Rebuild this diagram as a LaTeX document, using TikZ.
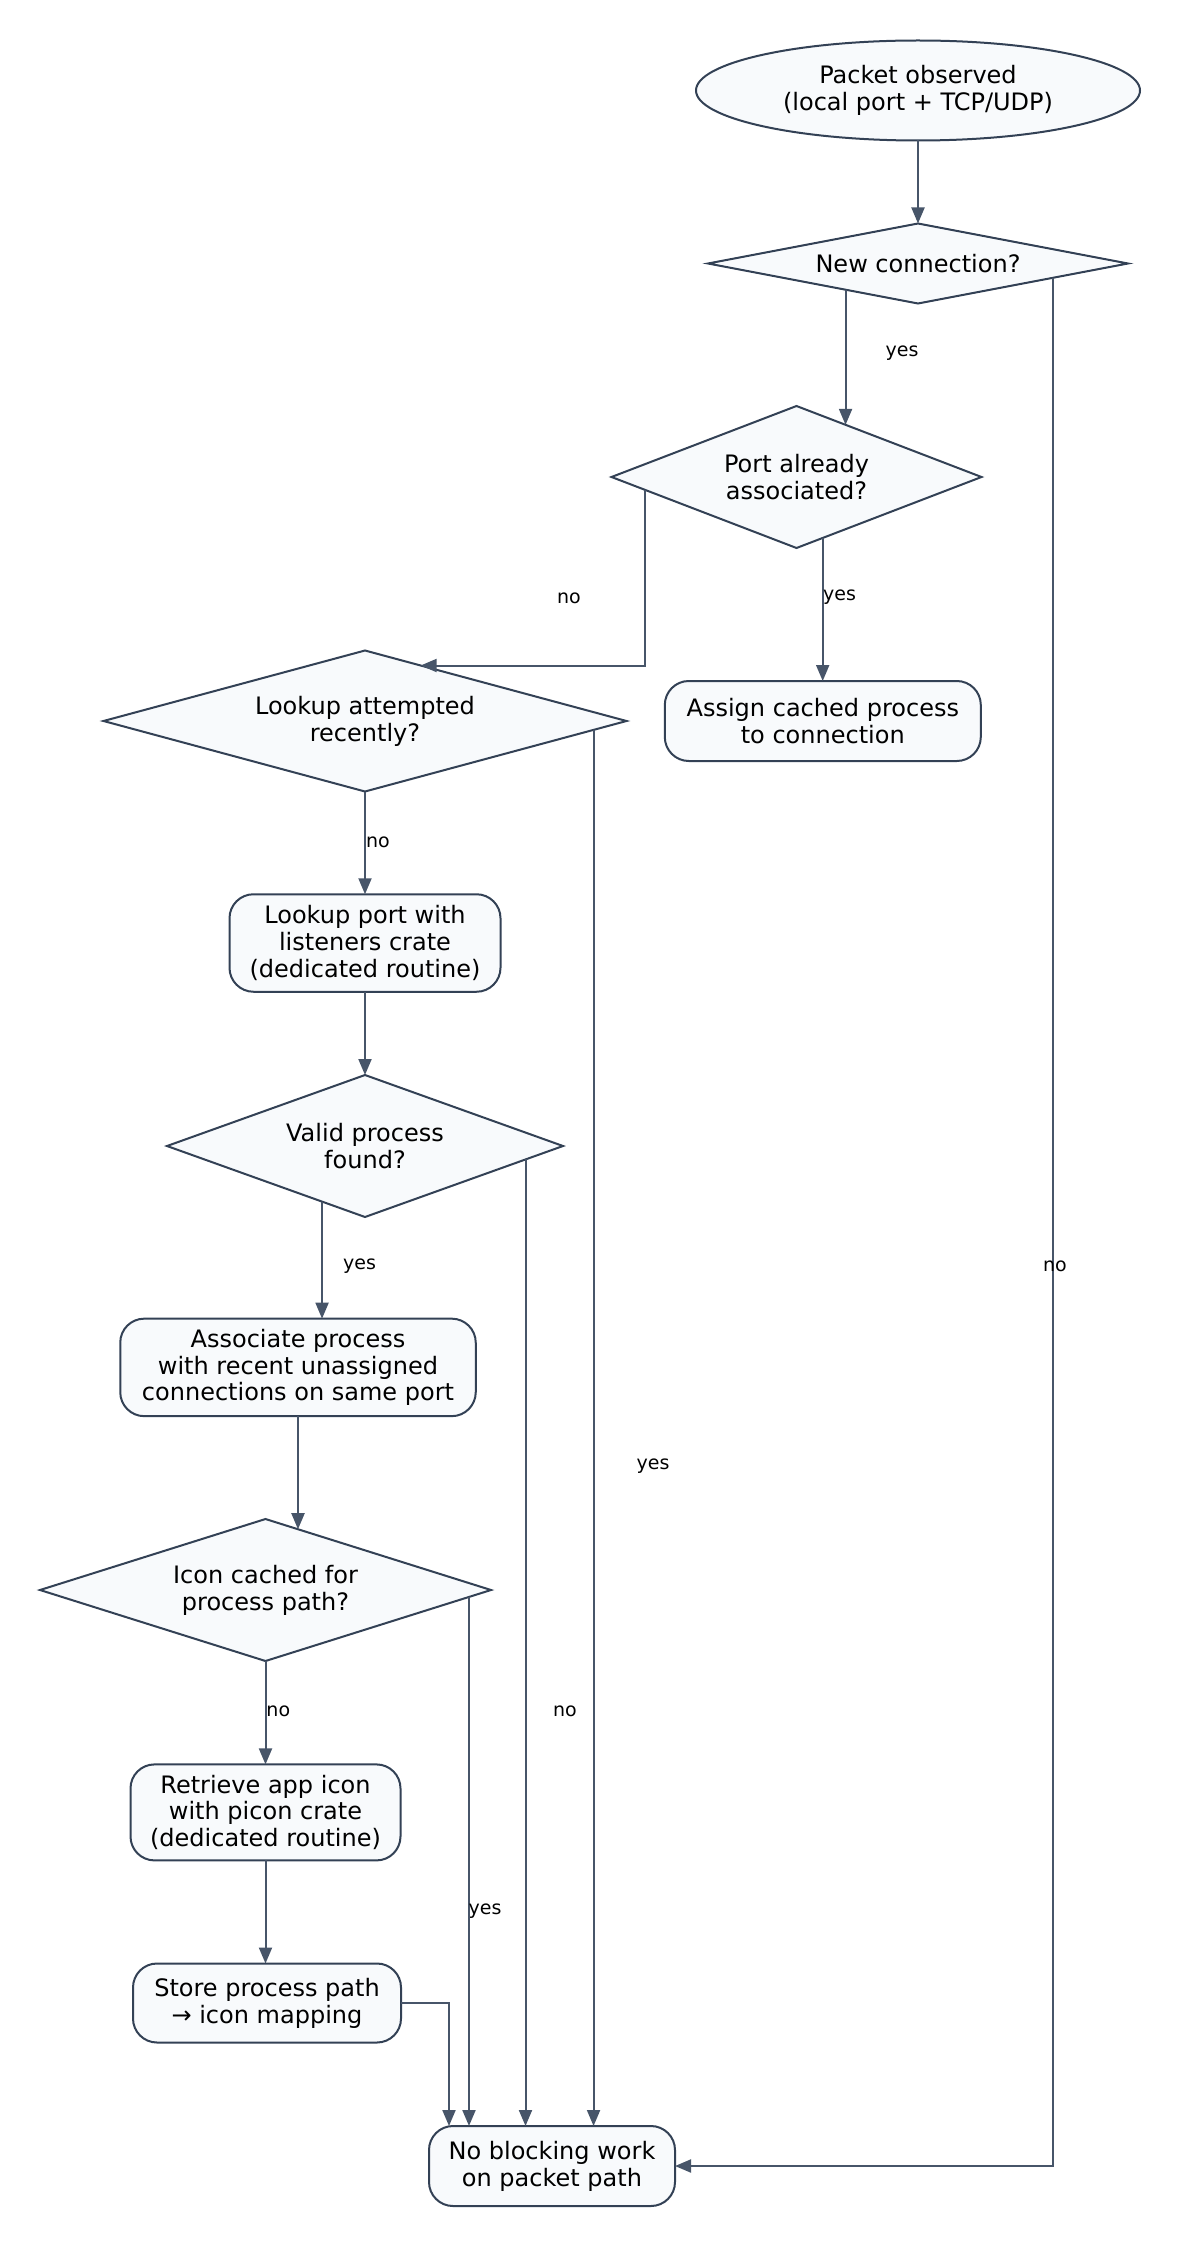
\documentclass[tikz,border=0pt]{standalone}
\usepackage{fontspec}
\setmainfont{DejaVu Sans}
\usetikzlibrary{shapes.geometric,arrows.meta,calc}
\definecolor{nodeborder}{HTML}{334155}
\definecolor{nodefill}{HTML}{F8FAFC}
\definecolor{edgecol}{HTML}{475569}
\begin{document}
\begin{tikzpicture}[x=0.5pt,y=-0.5pt,
  every node/.style={font=\fontsize{12pt}{13.4pt}\selectfont, text=black},
  base/.style={draw=nodeborder, fill=nodefill, line width=1pt, align=center, inner sep=0pt, outer sep=0pt},
  procbox/.style={base, rectangle, rounded corners=12pt},
  decision/.style={base, diamond},
  startnode/.style={base, ellipse},
  edge/.style={draw=edgecol, line width=1pt, -{Triangle[length=8pt,width=6.5pt]}},
  lbl/.style={font=\fontsize{9.5pt}{11pt}\selectfont, inner sep=0pt}
]
\path[use as bounding box] (0,0) rectangle (1181,2247);

% nodes
\node[startnode, minimum width=222pt, minimum height=50pt] (pkt) at (918,90.5) {Packet observed\\(local port + TCP/UDP)};
\node[decision, minimum width=210pt, minimum height=40pt, aspect=5.25] (newc) at (918,263.5) {New connection?};
\node[decision, minimum width=185pt, minimum height=71pt, aspect=2.6] (port) at (796.5,477) {Port already\\associated?};
\node[procbox, minimum width=158pt, minimum height=40pt] (assign) at (822.8,721) {Assign cached process\\to connection};
\node[decision, minimum width=261.5pt, minimum height=70.5pt, aspect=3.7] (recent) at (365,721) {Lookup attempted\\recently?};
\node[procbox, minimum width=135.5pt, minimum height=48.75pt] (lookup) at (365,943) {Lookup port with\\listeners crate\\(dedicated routine)};
\node[decision, minimum width=198pt, minimum height=71pt, aspect=2.79] (valid) at (365,1146) {Valid process\\found?};
\node[procbox, minimum width=177.75pt, minimum height=48.75pt] (assoc) at (298,1367.4) {Associate process\\with recent unassigned\\connections on same port};
\node[decision, minimum width=225.5pt, minimum height=71pt, aspect=3.18] (icon) at (265.5,1590) {Icon cached for\\process path?};
\node[procbox, minimum width=135pt, minimum height=48pt] (retrieve) at (265.5,1812.4) {Retrieve app icon\\with picon crate\\(dedicated routine)};
\node[procbox, minimum width=134pt, minimum height=39.5pt] (store) at (267,2003) {Store process path\\→ icon mapping};
\node[procbox, minimum width=123pt, minimum height=40pt] (noblock) at (552,2166) {No blocking work\\on packet path};

% connector end points on diamond borders
\coordinate (ncyes) at ($(newc.west)!0.655!(newc.south)$);
\coordinate (ncno) at ($(newc.south)!0.645!(newc.east)$);
\coordinate (portin) at ($(port.north)!0.266!(port.east)$);
\coordinate (portyes) at ($(port.south)!0.1416!(port.east)$);
\coordinate (portno) at ($(port.west)!0.181!(port.south)$);
\coordinate (recentin) at ($(recent.north)!0.2128!(recent.east)$);
\coordinate (recentyes) at ($(recent.south)!0.874!(recent.east)$);
\coordinate (validyes) at ($(valid.west)!0.783!(valid.south)$);
\coordinate (validno) at ($(valid.south)!0.8106!(valid.east)$);
\coordinate (iconin) at ($(icon.north)!0.144!(icon.east)$);
\coordinate (iconyes) at ($(icon.south)!0.9024!(icon.east)$);
\coordinate (nbin) at ([xshift=10pt]noblock.north west);

% connectors
\draw[edge] (pkt.south) -- (pkt.south |- newc.north);
\draw[edge] (ncyes) -- (ncyes |- portin);
\draw[edge] (portyes) -- (portyes |- assign.north);
\draw[edge] (portno) |- (recentin);
\draw[edge] (recent.south) -- (lookup.north);
\draw[edge] (recentyes) -- (recentyes |- noblock.north);
\draw[edge] (lookup.south) -- (valid.north);
\draw[edge] (validyes) -- (validyes |- assoc.north);
\draw[edge] (validno) -- (validno |- noblock.north);
\draw[edge] (assoc.south) -- (assoc.south |- iconin);
\draw[edge] (icon.south) -- (retrieve.north);
\draw[edge] (iconyes) -- (iconyes |- noblock.north);
\draw[edge] (retrieve.south) -- (retrieve.south |- store.north);
\draw[edge] (store.east) -| (nbin);
\draw[edge] (ncno) |- (noblock.east);

% labels
\node[lbl] (l1) at (902,353) {yes};
\node[lbl] (l2) at (569,598) {no};
\node[lbl] (l3) at (839.5,597) {yes};
\node[lbl] (l4) at (378,842) {no};
\node[lbl] (l5) at (359.5,1266) {yes};
\node[lbl] (l6) at (653,1466) {yes};
\node[lbl] (l7) at (565,1711) {no};
\node[lbl] (l8) at (278.3,1711) {no};
\node[lbl] (l9) at (485,1911) {yes};
\node[lbl] (l10) at (1055,1266.7) {no};
\end{tikzpicture}
\end{document}
